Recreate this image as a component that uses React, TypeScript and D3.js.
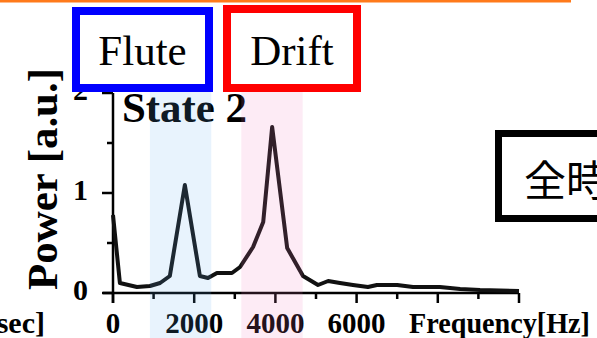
import React from "react";
import * as d3 from "d3";

const freqHz = [0, 170, 590, 910, 1160, 1400, 1770, 2140, 2340, 2560, 2930, 3130, 3450, 3700, 3920, 4290, 4680, 5050, 5300, 5590, 5910, 6280, 6500, 7000, 7390, 8050, 8550, 9040, 10000];
const power = [0.78, 0.10, 0.06, 0.07, 0.10, 0.17, 1.08, 0.17, 0.15, 0.20, 0.20, 0.26, 0.46, 0.71, 1.66, 0.45, 0.17, 0.08, 0.12, 0.10, 0.08, 0.06, 0.08, 0.08, 0.06, 0.06, 0.04, 0.03, 0.02];
const xMajorTicks = [0, 2000, 4000, 6000, 8000, 10000];
const xMinorTicks = [1000, 3000, 5000, 7000, 9000];
const xTickLabels = ["0", "2000", "4000", "6000"];
const yMajorTicks = [0, 1, 2];
const yMinorTicks = [0.5, 1.5];
const fluteBand = [910, 2420];
const driftBand = [3160, 4670];

const W = 597, H = 338;
const serif = "'Liberation Serif', 'Times New Roman', serif";

export default function App() {
  const x = d3.scaleLinear().domain([0, 10000]).range([113, 519]);
  const y = d3.scaleLinear().domain([0, 2]).range([293, 93]);
  const pts = freqHz.map((f, i) => [f, power[i]] as [number, number]);
  const line = d3.line<[number, number]>().x(d => x(d[0])).y(d => y(d[1]));

  return (
    <svg width={W} height={H} style={{ position: "absolute", left: 0, top: 0, background: "#fff" }}>
      <rect x={0} y={0} width={W} height={H} fill="#fff" />
      <line x1={0} x2={571} y1={1} y2={1} stroke="#ff7a1a" strokeWidth={3} />
      {/* axes */}
      <line x1={103} x2={x(10000)} y1={y(0)} y2={y(0)} stroke="#000" strokeWidth={2.5} />
      <line x1={x(0)} x2={x(0)} y1={y(0) + 10} y2={y(2)} stroke="#000" strokeWidth={2.5} />
      {xMajorTicks.map(t => (
        <line key={"xM" + t} x1={x(t)} x2={x(t)} y1={y(0)} y2={y(0) + 10} stroke="#000" strokeWidth={2.5} />
      ))}
      {xMinorTicks.map(t => (
        <line key={"xm" + t} x1={x(t)} x2={x(t)} y1={y(0)} y2={y(0) + 6} stroke="#000" strokeWidth={2.5} />
      ))}
      {yMajorTicks.map(t => (
        <line key={"yM" + t} x1={x(0) - 11} x2={x(0)} y1={y(t)} y2={y(t)} stroke="#000" strokeWidth={2.5} />
      ))}
      {yMinorTicks.map(t => (
        <line key={"ym" + t} x1={x(0) - 6} x2={x(0)} y1={y(t)} y2={y(t)} stroke="#000" strokeWidth={2.5} />
      ))}
      {xTickLabels.map((l, i) => (
        <text key={"xl" + l} x={x(xMajorTicks[i])} y={333} textAnchor="middle" fontFamily={serif} fontWeight="bold" fontSize={30} textLength={l.length * 14.5} lengthAdjust="spacingAndGlyphs" fill="#000">{l}</text>
      ))}
      {yMajorTicks.map(t => (
        <text key={"yl" + t} x={88} y={y(t) + 7} textAnchor="end" fontFamily={serif} fontWeight="bold" fontSize={30} fill="#000">{t}</text>
      ))}
      <text x={409} y={333} fontFamily={serif} fontWeight="bold" fontSize={30} textLength={181} lengthAdjust="spacingAndGlyphs" fill="#000">Frequency[Hz]</text>
      <text x={45} y={333} textAnchor="end" fontFamily={serif} fontWeight="bold" fontSize={30} fill="#000">Time[msec]</text>
      <text transform="translate(57,179) rotate(-90)" textAnchor="middle" fontFamily={serif} fontWeight="bold" fontSize={43} textLength={222} lengthAdjust="spacingAndGlyphs" fill="#000">Power [a.u.]</text>
      <text x={122} y={122} fontFamily={serif} fontWeight="bold" fontSize={43} textLength={125} lengthAdjust="spacingAndGlyphs" fill="#000">State 2</text>
      {/* data line */}
      <path d={line(pts) || ""} fill="none" stroke="#111" strokeWidth={4} strokeLinejoin="round" />
      {/* bands overlay */}
      <rect x={x(fluteBand[0])} y={92} width={x(fluteBand[1]) - x(fluteBand[0])} height={H - 92} fill="rgb(102,175,242)" fillOpacity={0.15} />
      <rect x={x(driftBand[0])} y={88} width={x(driftBand[1]) - x(driftBand[0])} height={H - 88} fill="rgb(240,120,190)" fillOpacity={0.15} />
      {/* label boxes */}
      <rect x={76} y={11} width={133} height={77} fill="#fff" stroke="#0000ff" strokeWidth={8} />
      <text x={142.5} y={65} textAnchor="middle" fontFamily={serif} fontSize={43} fill="#000">Flute</text>
      <rect x={227} y={9} width={130} height={79} fill="#fff" stroke="#ff0000" strokeWidth={8} />
      <text x={292} y={65} textAnchor="middle" fontFamily={serif} fontSize={43} fill="#000">Drift</text>
      <rect x={498.5} y={133.5} width={200} height={85} fill="#fff" stroke="#000" strokeWidth={7} />
      <text x={524} y={196} fontFamily="'Noto Sans CJK JP', sans-serif" fontSize={42} fill="#000">全時間</text>
    </svg>
  );
}
